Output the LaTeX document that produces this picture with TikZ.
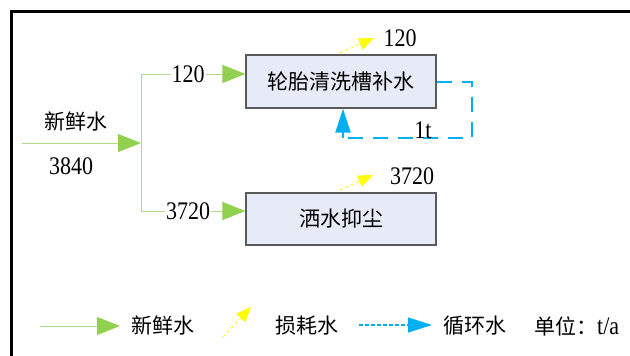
\documentclass[tikz,border=0pt]{standalone}
\usepackage{fontspec}
\setmainfont{Liberation Serif}
\newfontfamily\cjk{Noto Sans CJK SC}
\usetikzlibrary{arrows.meta}
\definecolor{frgreen}{RGB}{146,208,80}
\definecolor{frline}{RGB}{175,218,135}
\definecolor{lossyel}{RGB}{255,255,0}
\definecolor{cycblue}{RGB}{0,176,240}
\definecolor{boxfill}{RGB}{230,235,247}
\definecolor{boxdraw}{RGB}{90,90,90}
\newcommand\tallnum[1]{\scalebox{1}[1.15]{#1}}
\tikzset{
  procbox/.style={draw=boxdraw,line width=1.2pt,fill=boxfill,minimum width=190pt,minimum height=53pt,inner sep=0pt,font=\cjk\fontsize{21}{24}\selectfont},
  freshline/.style={draw=frline,line width=1pt},
  fresharrow/.style={freshline,-{Triangle[length=23pt,width=18pt,fill=frgreen,color=frgreen]}},
  lossarrow/.style={draw=lossyel,line width=0.8pt,dashed,-{Triangle[length=15pt,width=12pt,fill=lossyel,color=lossyel]}},
  cycline/.style={draw=cycblue,line width=2.2pt,dash pattern=on 15pt off 10pt},
  cycarrow/.style={draw=cycblue,line width=1.2pt,dash pattern=on 4pt off 2pt,-{Triangle[length=24pt,width=15pt,fill=cycblue,color=cycblue]}},
  numlbl/.style={font=\fontsize{22}{24}\selectfont,inner sep=1pt},
  cnlbl/.style={font=\cjk\fontsize{21}{24}\selectfont,inner sep=1pt}
}
\begin{document}
\begin{tikzpicture}[x=1pt,y=-1pt]
\useasboundingbox (0,0) rectangle (630,356);
\fill[white] (0,0) rectangle (630,356);
% frame
\draw[line width=3pt] (11,356) -- (11,11) -- (630,11);
% boxes
\node[procbox] (b1) at (341,81.5) {轮胎清洗槽补水};
\node[procbox,minimum height=52pt] (b2) at (341,219) {洒水抑尘};
% fresh water input
\coordinate (in) at (22,143);
\coordinate (sp) at (141,143);
\coordinate (top) at (141,74);
\coordinate (bot) at (141,211);
\draw[fresharrow] (in) -- (sp);
\draw[freshline] (top) -- (bot);
\draw[fresharrow] (top) -- (top -| b1.west);
\draw[fresharrow] (bot) -- (bot -| b2.west);
\node[cnlbl] (lfresh) at (76,122) {新鲜水};
\node[numlbl] (l3840) at (71,166) {\tallnum{3840}};
\node[numlbl,fill=white] (l120a) at (188,74) {\tallnum{120}};
\node[numlbl,fill=white] (l3720a) at (188,211) {\tallnum{3720}};
% losses
\coordinate (ls1) at (340,53);
\coordinate (le1) at (374,38);
\draw[lossarrow] (ls1) -- (le1);
\node[numlbl] (l120b) at (400,38) {\tallnum{120}};
\coordinate (ls2) at (340,190);
\coordinate (le2) at (373,175);
\draw[lossarrow] (ls2) -- (le2);
\node[numlbl] (l3720b) at (412,176) {\tallnum{3720}};
% cycle loop
\coordinate (c1) at (472,82);
\coordinate (c2) at (472,138);
\coordinate (c3) at (343,138);
\draw[cycline] (b1.east |- c1) -- (c1) -- (c2) -- (c3);
\draw[draw=cycblue,line width=2.2pt,-{Triangle[length=24pt,width=15pt,fill=cycblue,color=cycblue]}] (c3) -- (c3 |- b1.south);
\node[numlbl] (l1t) at (423,130) {\tallnum{1t}};
% legend
\coordinate (g1) at (40,326);
\coordinate (g2) at (120,326);
\draw[fresharrow] (g1) -- (g2);
\node[cnlbl] (lg1) at (163,326) {新鲜水};
\coordinate (y1) at (223,337);
\coordinate (y2) at (251,307);
\draw[lossarrow] (y1) -- (y2);
\node[cnlbl] (lg2) at (307,326) {损耗水};
\coordinate (u1) at (359,325);
\coordinate (u2) at (432,325);
\draw[cycarrow] (u1) -- (u2);
\node[cnlbl] (lg3) at (475,326) {循环水};
\node[cnlbl,anchor=west] (lg4) at (533,326) {单位：\fontsize{22}{24}\selectfont\rmfamily\tallnum{t/a}};
\end{tikzpicture}
\end{document}
